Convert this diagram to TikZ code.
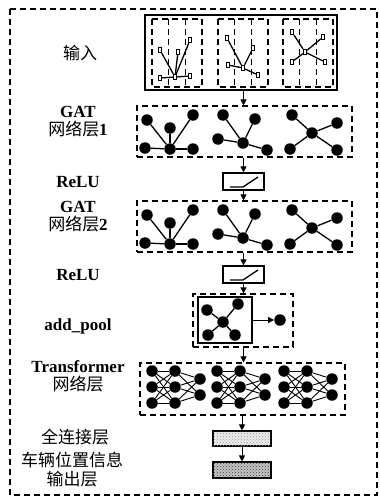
\documentclass[tikz,border=0pt]{standalone}
\usepackage{fontspec}
\setmainfont{Liberation Serif}
\newfontfamily\cjk{Noto Sans CJK SC}
\usepackage{tikz}
\usetikzlibrary{arrows.meta,patterns}

\begin{document}
\begin{tikzpicture}[x=1pt,y=-1pt,
  dbox/.style={draw,line width=1.1pt,dash pattern=on 6pt off 4pt,inner sep=0pt},
  sbox/.style={draw,line width=1.3pt,inner sep=0pt},
  dot/.style={circle,fill,inner sep=0pt,minimum size=11.5pt},
  car/.style={draw,fill=white,inner sep=0pt,line width=0.8pt,minimum width=3.5pt,minimum height=5.5pt},
  link/.style={line width=1.3pt},
  thin link/.style={line width=0.9pt},
  lbl/.style={align=center,font=\fontsize{17}{18}\selectfont\bfseries},
  cjklbl/.style={align=center,font=\fontsize{17}{19}\selectfont\cjk},
  flow/.style={-{Triangle[length=6pt,width=6pt]},line width=1pt}]
 \useasboundingbox (0,0) rectangle (380,498);
 \draw[dbox] (10,9) rectangle (377,495);

 % left column labels
 \node[cjklbl] (l1) at (80,53) {输入};
 \node[lbl] (l2) at (78,122) {GAT\\{\cjk\mdseries 网络层}1};
 \node[lbl] (l3) at (78,182) {ReLU};
 \node[lbl] (l4) at (78,217) {GAT\\{\cjk\mdseries 网络层}2};
 \node[lbl] (l5) at (78,275) {ReLU};
 \node[lbl] (l6) at (78,326) {add\_pool};
 \node[lbl] (l7) at (78,376) {Transformer\\{\cjk\mdseries 网络层}};
 \node[cjklbl] (l8) at (75,437) {全连接层};
 \node[cjklbl] (l9) at (72,470) {\cjk 车辆位置信息\\\cjk 输出层};

 % blocks
 \node[sbox,minimum width=192pt,minimum height=75pt] (inbox) at (241,52.5) {};
 \node[dbox,minimum width=215pt,minimum height=51pt] (gat1) at (244.5,131.5) {};
 \node[sbox,minimum width=41pt,minimum height=17pt] (relu1) at (243.5,181.5) {};
 \node[dbox,minimum width=215pt,minimum height=51pt] (gat2) at (244.5,226.5) {};
 \node[sbox,minimum width=41pt,minimum height=17pt] (relu2) at (243.5,274.5) {};
 \node[dbox,minimum width=100pt,minimum height=53pt] (pool) at (243,320.5) {};
 \node[sbox,minimum width=54pt,minimum height=46pt] (poolin) at (225,320) {};
 \node[dbox,minimum width=205pt,minimum height=52pt] (trans) at (242.5,389) {};
 \node[draw,line width=1.1pt,minimum width=58pt,minimum height=15pt,inner sep=0pt,
   fill=gray!15,postaction={pattern=crosshatch dots,pattern color=gray!80}] (fc) at (242,438.5) {};
 \node[draw,line width=1.1pt,minimum width=58pt,minimum height=16pt,inner sep=0pt,
   fill=gray!45,postaction={pattern=crosshatch dots,pattern color=black!80}] (out) at (242,470) {};

 % input: three road sections with vehicles
 \foreach \x in {152,218,283} {
   \draw[dbox] (\x,19) rectangle +(50,68);
   \foreach \j in {1,2}
     \draw[dbox] ({\x+16.7*\j},19) -- +(0,68);
 }
 \node[car] (v1) at (175,77) {};
 \foreach \p [count=\i] in {(160,50),(178,52),(190,40),(160,78),(190,76)}
   { \node[car] (v1\i) at \p {}; \draw[link] (v1) -- (v1\i); }
 \node[car] (v2) at (243,68) {};
 \foreach \p [count=\i] in {(227,38),(253,48),(228,65),(258,75)}
   { \node[car] (v2\i) at \p {}; \draw[link] (v2) -- (v2\i); }
 \node[car] (v3) at (305,52) {};
 \foreach \p [count=\i] in {(292,32),(323,37),(292,62),(325,62)}
   { \node[car] (v3\i) at \p {}; \draw[link] (v3) -- (v3\i); }

 % GAT layers
 \foreach \dy/\k in {0/1,95/2} {
  \begin{scope}[shift={(0,\dy)}]
   \node[dot] (a\k) at (170,149) {};
   \foreach \p [count=\i] in {(147,120),(170,128),(193,115),(145,148),(193,149)}
     { \node[dot] (a\k\i) at \p {}; \draw[link] (a\k) -- (a\k\i); }
   \node[dot] (b\k) at (243,143) {};
   \foreach \p [count=\i] in {(223,115),(255,119),(218,139),(267,150)}
     { \node[dot] (b\k\i) at \p {}; \draw[link] (b\k) -- (b\k\i); }
   \node[dot] (c\k) at (312,133) {};
   \foreach \p [count=\i] in {(292,115),(337,123),(290,149),(337,150)}
     { \node[dot] (c\k\i) at \p {}; \draw[link] (c\k) -- (c\k\i); }
  \end{scope}
 }

 % ReLU curves
 \draw[link] (230,187) -- (243,187) -- (258,177);
 \draw[link] (230,280) -- (243,280) -- (258,270);

 % pooling
 \node[dot] (p0) at (223,322) {};
 \foreach \p [count=\i] in {(207,310),(238,304),(208,335),(235,335)}
   { \node[dot] (p\i) at \p {}; \draw[link] (p0) -- (p\i); }
 \node[dot] (pooled) at (280,320) {};
 \draw[flow] (poolin.east |- pooled) -- (pooled);

 % transformer
 \foreach \x/\k in {152/1,217/2,284/3} {
   \foreach \y [count=\r] in {371,387,403} {
     \node[dot] (t\k a\r) at (\x,\y) {};
     \node[dot] (t\k b\r) at (\x+23,\y) {};
   }
   \node[dot] (t\k c1) at (\x+48,379) {};
   \node[dot] (t\k c2) at (\x+48,395) {};
   \foreach \r in {1,2,3} {
     \foreach \s in {1,2,3}
       \draw[thin link] (t\k a\r) -- (t\k b\s);
     \foreach \s in {1,2}
       \draw[thin link] (t\k b\r) -- (t\k c\s);
   }
 }

 % flow arrows
 \draw[flow] (inbox.south -| relu1.north) -- (gat1.north -| relu1.north);
 \draw[flow] (gat1.south -| relu1.north) -- (relu1.north);
 \draw[flow] (relu1.south) -- (gat2.north -| relu1.south);
 \draw[flow] (gat2.south -| relu1.north) -- (relu2.north);
 \draw[flow] (relu2.south) -- (pool.north -| relu2.south);
 \draw[flow] (pool.south -| relu2.south) -- (trans.north -| relu2.south);
 \draw[flow] (trans.south -| fc.north) -- (fc.north);
 \draw[flow] (fc.south) -- (out.north);
\end{tikzpicture}
\end{document}
